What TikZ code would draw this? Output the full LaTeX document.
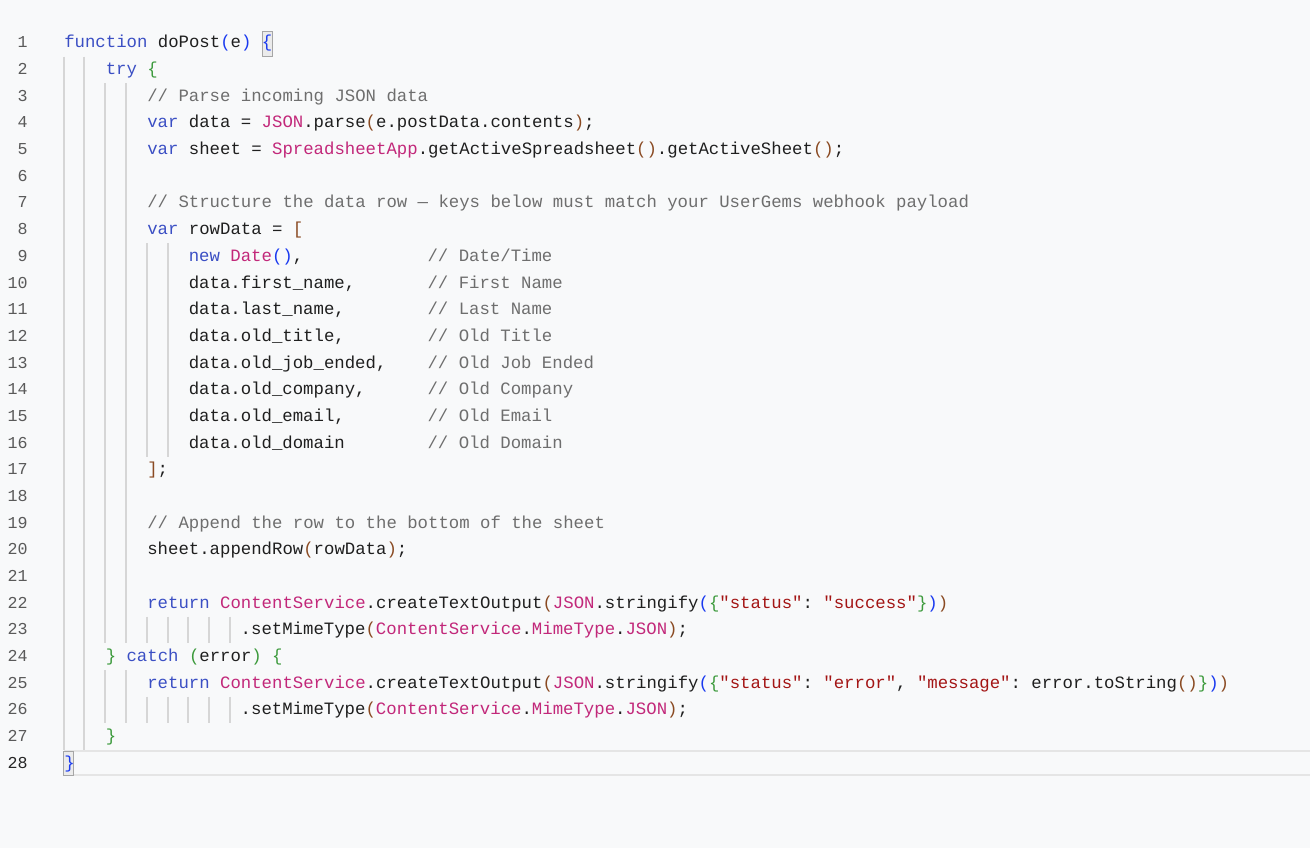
\documentclass[tikz,border=0pt]{standalone}
\usepackage{fontspec}
\setmonofont{Liberation Mono}
\setmainfont{Liberation Mono}
\definecolor{bg}{HTML}{F8F9FA}
\definecolor{kw}{HTML}{3B4FC4}
\definecolor{cm}{HTML}{6E6E6E}
\definecolor{cls}{HTML}{C2287A}
\definecolor{str}{HTML}{A31515}
\definecolor{txt}{HTML}{1F1F1F}
\definecolor{bb}{HTML}{1A3AF0}
\definecolor{bg2}{HTML}{3C9A3C}
\definecolor{br}{HTML}{8A4A22}
\definecolor{guide}{HTML}{D6D6D6}
\definecolor{lnum}{HTML}{5A5A5A}
\newcommand{\K}[1]{\textcolor{kw}{#1}}
\newcommand{\Cm}[1]{\textcolor{cm}{#1}}
\newcommand{\Cl}[1]{\textcolor{cls}{#1}}
\newcommand{\St}[1]{\textcolor{str}{#1}}
\newcommand{\Bb}[1]{\textcolor{bb}{#1}}
\newcommand{\Bg}[1]{\textcolor{bg2}{#1}}
\newcommand{\Br}[1]{\textcolor{br}{#1}}
\begin{document}
\begin{tikzpicture}[x=0.75pt,y=-0.75pt,
  code/.style={anchor=base west,inner sep=0pt,font=\fontsize{13pt}{15pt}\ttfamily,text=txt},
  num/.style={anchor=base east,inner sep=0pt,font=\fontsize{12.5pt}{15pt}\ttfamily,text=lnum},
  gd/.style={draw=guide,line width=0.9pt}]
\useasboundingbox (0,0) rectangle (1310,848);
\fill[bg] (0,0) rectangle (1310,848);
% current line highlight
\draw[draw=black!10,line width=1pt] (64,751) -- (1310,751) (64,775) -- (1310,775);
% bracket match boxes
\draw[draw=black!35,fill=black!8,line width=0.6pt] (262,31) rectangle (272,56);
\draw[draw=black!35,fill=black!8,line width=0.6pt] (63,751) rectangle (73,775);
% indent guides
\foreach \gx in {64,84} \draw[gd] (\gx,{30+1*26.667}) -- (\gx,{30+27*26.667});
\foreach \gx in {105,126} {
  \draw[gd] (\gx,{30+2*26.667}) -- (\gx,{30+23*26.667});
  \draw[gd] (\gx,{30+24*26.667}) -- (\gx,{30+26*26.667});}
\foreach \gx in {147,168} {
  \draw[gd] (\gx,{30+8*26.667}) -- (\gx,{30+16*26.667});
  \draw[gd] (\gx,{30+22*26.667}) -- (\gx,{30+23*26.667});
  \draw[gd] (\gx,{30+25*26.667}) -- (\gx,{30+26*26.667});}
\foreach \gx in {188,209,230} {
  \draw[gd] (\gx,{30+22*26.667}) -- (\gx,{30+23*26.667});
  \draw[gd] (\gx,{30+25*26.667}) -- (\gx,{30+26*26.667});}
% line numbers
\foreach \n in {1,...,27} \node[num] (n\n) at (28,{48+(\n-1)*26.667}) {\n};
\node[num,text=black!85] (n28) at (28,{48+27*26.667}) {28};
% code lines
\def\cw{10.38}
\newcommand{\Ln}[3]{\node[code] (#1) at ({64+#2*\cw},{48+(#1-1)*26.667}) {#3};}
\Ln{1}{0}{\K{function} doPost\Bb{(}e\Bb{)} \Bb{\{}}
\Ln{2}{4}{\K{try} \Bg{\{}}
\Ln{3}{8}{\Cm{// Parse incoming JSON data}}
\Ln{4}{8}{\K{var} data = \Cl{JSON}.parse\Br{(}e.postData.contents\Br{)};}
\Ln{5}{8}{\K{var} sheet = \Cl{SpreadsheetApp}.getActiveSpreadsheet\Br{()}.getActiveSheet\Br{()};}
\Ln{7}{8}{\Cm{// Structure the data row — keys below must match your UserGems webhook payload}}
\Ln{8}{8}{\K{var} rowData = \Br{[}}
\Ln{9}{12}{\K{new} \Cl{Date}\Bb{()},}
\Ln{10}{12}{data.first\_name,}
\Ln{11}{12}{data.last\_name,}
\Ln{12}{12}{data.old\_title,}
\Ln{13}{12}{data.old\_job\_ended,}
\Ln{14}{12}{data.old\_company,}
\Ln{15}{12}{data.old\_email,}
\Ln{16}{12}{data.old\_domain}
\foreach \n/\t in {9/{Date/Time},10/First Name,11/Last Name,12/Old Title,13/Old Job Ended,14/Old Company,15/Old Email,16/Old Domain}
  \node[code,text=cm] (c\n) at ({64+35*\cw},{48+(\n-1)*26.667}) {// \t};
\Ln{17}{8}{\Br{]};}
\Ln{19}{8}{\Cm{// Append the row to the bottom of the sheet}}
\Ln{20}{8}{sheet.appendRow\Br{(}rowData\Br{)};}
\Ln{22}{8}{\K{return} \Cl{ContentService}.createTextOutput\Br{(}\Cl{JSON}.stringify\Bb{(}\Bg{\{}\St{"status"}: \St{"success"}\Bg{\}}\Bb{)}\Br{)}}
\Ln{23}{17}{.setMimeType\Br{(}\Cl{ContentService}.\Cl{MimeType}.\Cl{JSON}\Br{)};}
\Ln{24}{4}{\Bg{\}} \K{catch} \Bg{(}error\Bg{)} \Bg{\{}}
\Ln{25}{8}{\K{return} \Cl{ContentService}.createTextOutput\Br{(}\Cl{JSON}.stringify\Bb{(}\Bg{\{}\St{"status"}: \St{"error"}, \St{"message"}: error.toString\Br{()}\Bg{\}}\Bb{)}\Br{)}}
\Ln{26}{17}{.setMimeType\Br{(}\Cl{ContentService}.\Cl{MimeType}.\Cl{JSON}\Br{)};}
\Ln{27}{4}{\Bg{\}}}
\Ln{28}{0}{\Bb{\}}}
\end{tikzpicture}
\end{document}
